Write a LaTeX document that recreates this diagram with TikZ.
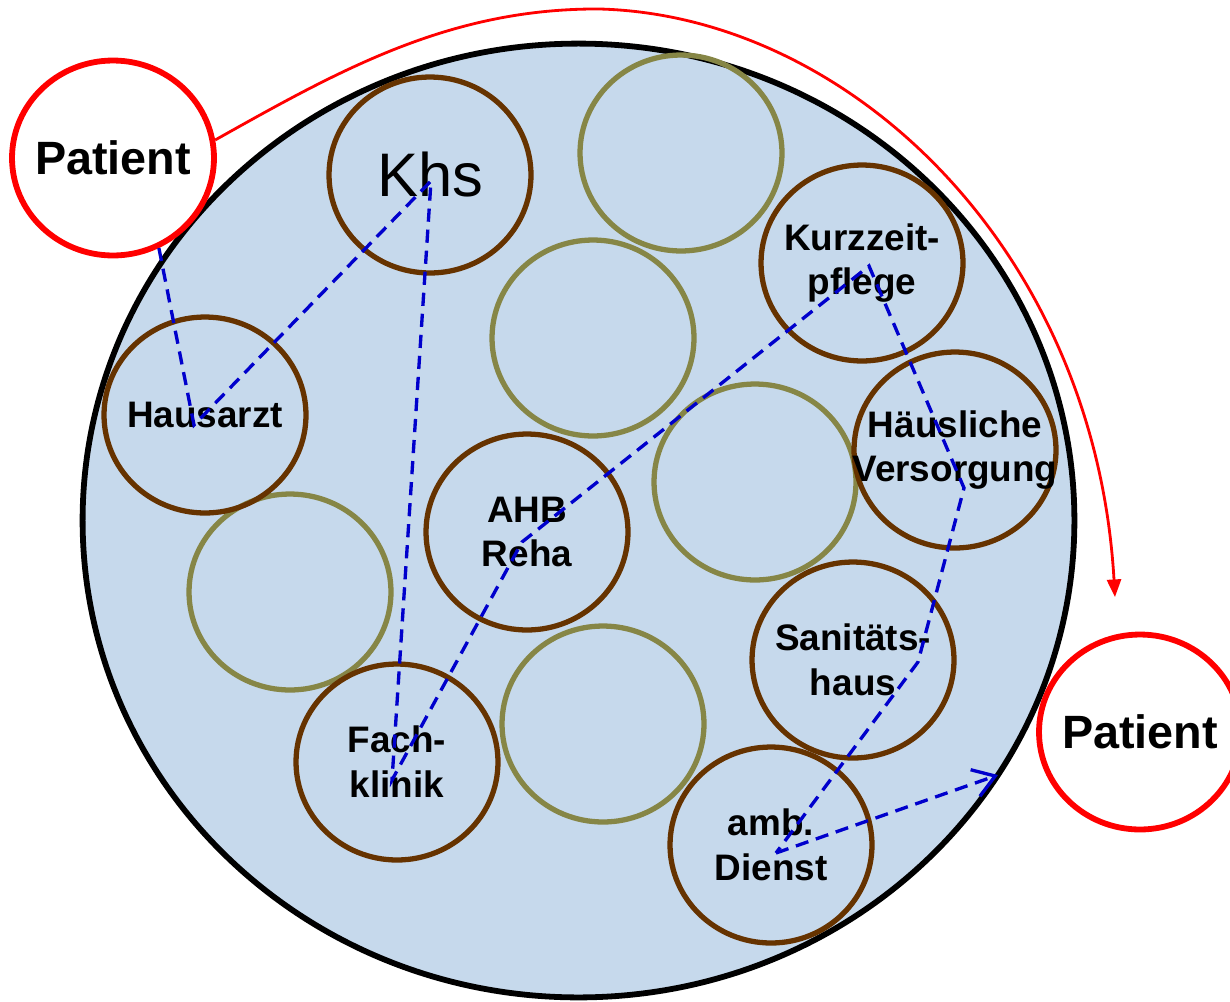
\documentclass[tikz,border=0pt]{standalone}
\usepackage{fontspec}
\setmainfont{Liberation Sans}
\usepackage{tikz}
\usetikzlibrary{shapes.geometric, arrows.meta}

\definecolor{netzblau}{RGB}{198,217,236}
\definecolor{braun}{RGB}{102,51,0}
\definecolor{oliv}{RGB}{134,134,70}
\definecolor{wegblau}{RGB}{0,0,204}

\begin{document}
\begin{tikzpicture}[x=0.02cm, y=-0.02cm,
	station/.style={ellipse, draw=braun, line width=3pt, minimum width=4.04cm, minimum height=3.92cm, inner sep=0pt},
	frei/.style={station, draw=oliv},
	stext/.style={font=\bfseries\fontsize{21}{25.5}\selectfont, align=center, inner sep=0pt},
	ptext/.style={font=\bfseries\fontsize{26.6}{30}\selectfont, inner sep=0pt},
	patient/.style={ellipse, draw=red, fill=white, line width=3.3pt, minimum width=4.04cm, minimum height=3.9cm, inner sep=0pt},
	route/.style={draw=wegblau, line width=1.9pt, dash pattern=on 7.5pt off 4.5pt},
	flow/.style={draw=red, line width=1.6pt, -{Triangle[length=10pt, width=8pt]}}]
				\useasboundingbox (0,0) rectangle (1230,1001);
				\clip (0,0) rectangle (1230,1001);
				
				% Versorgungsnetz
				\draw[line width=3.3pt, fill=netzblau] (578.5,520.5) ellipse [x radius=9.92cm, y radius=9.54cm];
				
				% freie Plaetze im Netz
				\node[frei] (f1) at (681,153) {};
				\node[frei] (f2) at (593,338) {};
				\node[frei] (f3) at (755,482) {};
				\node[frei] (f4) at (290,592) {};
				\node[frei] (f5) at (603,724) {};
				
				% Stationen
				\node[station, label={[font=\fontsize{35}{40}\selectfont, inner sep=0pt]center:Khs}] (khs) at (430,175) {};
				\node[station, label={[stext]center:Hausarzt}] (haus) at (205,415) {};
				\node[station, label={[stext]center:Kurzzeit-\\pflege}] (kurz) at (862,263) {};
				\node[station, label={[stext]center:Häusliche\\Versorgung}] (haeus) at (955,450) {};
				\node[station, label={[stext]center:AHB\\Reha}] (ahb) at (527,532) {};
				\node[station, label={[stext]center:Sanitäts-\\haus}] (sani) at (853,660) {};
				\node[station, label={[stext]center:Fach-\\klinik}] (fach) at (397,762) {};
				\node[station, label={[stext]center:amb.\\Dienst}] (amb) at (771,845) {};
				
				% Patient vorher und nachher
				\node[patient, label={[ptext]center:Patient}] (pat1) at (113,158) {};
				\node[patient, label={[ptext]center:Patient}] (pat2) at (1140,732) {};
				
				% Weg durch das Netz
				\coordinate (c1) at ([shift={(-11,10)}]haus.center);
				\coordinate (c2) at ([shift={(1,6)}]khs.center);
				\coordinate (c3) at ([shift={(-5,18)}]fach.center);
				\coordinate (c4) at ([shift={(-5,10)}]ahb.center);
				\coordinate (c5) at ([shift={(7,3)}]kurz.center);
				\coordinate (c6) at ([shift={(9,38)}]haeus.center);
				\coordinate (c7) at ([shift={(65,2)}]sani.center);
				\coordinate (c8) at ([shift={(5,8)}]amb.center);
				\coordinate (ziel) at (998,775);
				\draw[route] (pat1.-63) -- (c1) -- (c2) -- (c3) -- (c4) -- (c5) -- (c6) -- (c7) -- (c8);
				\draw[route, -{Straight Barb[length=12pt, width=16pt]}] (c8) -- (ziel);
				
				% eigentlicher Weg des Patienten
				\coordinate (zurueck) at (1115,597);
				\draw[flow] (pat1.10) .. controls (340,70) and (450,8) .. (600,9) .. controls (850,16) and (1095,250) .. (zurueck);
			\end{tikzpicture}
\end{document}
